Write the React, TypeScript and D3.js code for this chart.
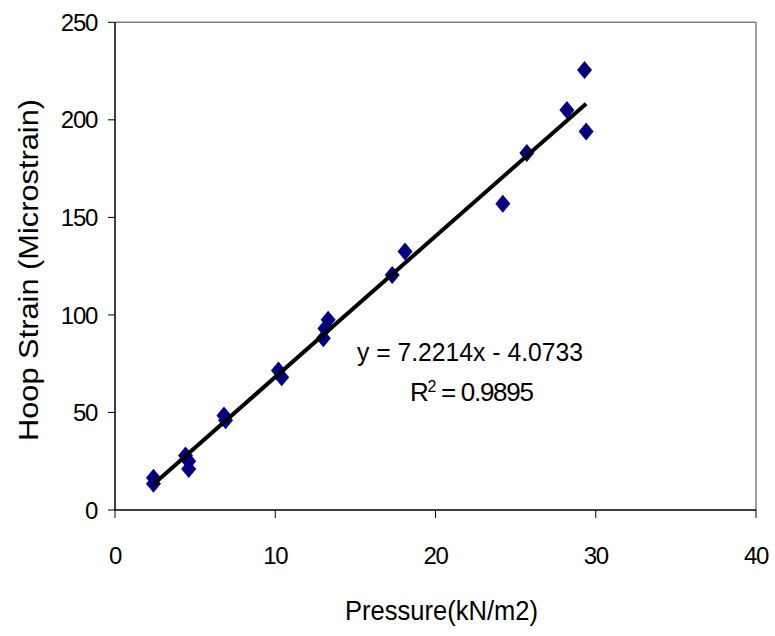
import React from "react";
import * as d3 from "d3";

const pressure = [2.4, 2.4, 4.4, 4.6, 4.6, 6.8, 6.9, 10.2, 10.4, 13.0, 13.1, 13.3, 17.3, 18.1, 24.2, 25.7, 28.2, 29.3, 29.4];
const strain = [16.5, 13.5, 28, 25, 21, 48.5, 46, 71.5, 68, 88, 93, 97.5, 120.5, 132.5, 157, 183, 205, 225.5, 194];
const xTicks = [0, 10, 20, 30, 40];
const yTicks = [0, 50, 100, 150, 200, 250];
const slope = 7.2214;
const intercept = -4.0733;
const eqText = "y = 7.2214x - 4.0733";

const W = 775, H = 636;
const FONT = "'Liberation Sans', Arial, sans-serif";

export default function App() {
  const x = d3.scaleLinear().domain([0, 40]).range([115, 756]);
  const y = d3.scaleLinear().domain([0, 250]).range([510, 22.3]);
  const xMin = d3.min(pressure)!;
  const xMax = d3.max(pressure)!;
  const line = d3.line<number>().x((d) => x(d)).y((d) => y(slope * d + intercept));
  const diamond = (cx: number, cy: number) =>
    `M${cx},${cy - 9}L${cx + 7.5},${cy}L${cx},${cy + 9}L${cx - 7.5},${cy}Z`;
  return (
    <svg width={W} height={H} style={{ position: "absolute", left: 0, top: 0, background: "#fff" }}>
      <rect x={0} y={0} width={W} height={H} fill="#fff" />
      {/* plot border */}
      <line x1={x(0)} x2={x(40)} y1={y(250)} y2={y(250)} stroke="#808080" strokeWidth={1.5} />
      <line x1={x(40)} x2={x(40)} y1={y(250)} y2={y(0)} stroke="#808080" strokeWidth={1.5} />
      {/* axes */}
      <line x1={x(0)} x2={x(40)} y1={y(0)} y2={y(0)} stroke="#000" strokeWidth={1.5} />
      <line x1={x(0)} x2={x(0)} y1={y(250)} y2={y(0)} stroke="#000" strokeWidth={1.5} />
      {yTicks.map((t) => (
        <g key={"y" + t}>
          <line x1={x(0) - 7} x2={x(0)} y1={y(t)} y2={y(t)} stroke="#000" strokeWidth={1} />
          <text x={97} y={y(t)} dy="0.36em" textAnchor="end" fontFamily={FONT} fontSize={24} letterSpacing={-1.3} fill="#000">
            {t}
          </text>
        </g>
      ))}
      {xTicks.map((t) => (
        <g key={"x" + t}>
          <line x1={x(t)} x2={x(t)} y1={y(0)} y2={y(0) + 8} stroke="#000" strokeWidth={1} />
          <text x={x(t)} y={y(0) + 45} dy="0.36em" textAnchor="middle" fontFamily={FONT} fontSize={24} letterSpacing={-1.3} fill="#000">
            {t}
          </text>
        </g>
      ))}
      {pressure.map((p, i) => (
        <path key={i} d={diamond(x(p), y(strain[i]))} fill="#000080" />
      ))}
      <path d={line([xMin, xMax]) || ""} fill="none" stroke="#000" strokeWidth={4} />
      <text x={357} y={361} fontFamily={FONT} fontSize={26} textLength={226} lengthAdjust="spacingAndGlyphs" fill="#000">
        {eqText}
      </text>
      <text x={410} y={401} fontFamily={FONT} fontSize={26} letterSpacing={-1.3} fill="#000">
        R<tspan dy="-9" fontSize={16}>2</tspan><tspan dy="9"> = 0.9895</tspan>
      </text>
      <text x={345} y={620} fontFamily={FONT} fontSize={28} textLength={193} lengthAdjust="spacingAndGlyphs" fill="#000">
        Pressure(kN/m2)
      </text>
      <text transform={`translate(38,441) rotate(-90)`} fontFamily={FONT} fontSize={28} textLength={342} lengthAdjust="spacingAndGlyphs" fill="#000">
        Hoop Strain (Microstrain)
      </text>
    </svg>
  );
}
